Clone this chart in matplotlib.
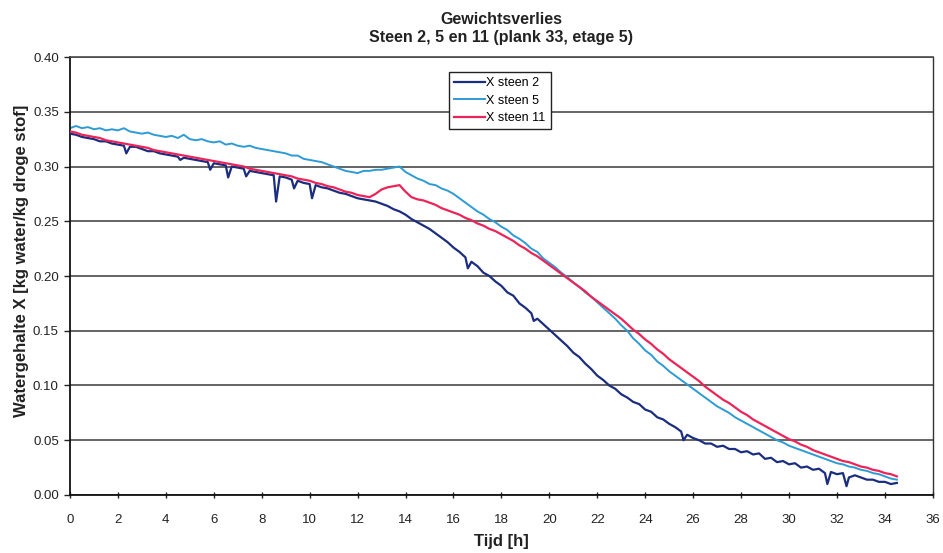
import numpy as np
import matplotlib
matplotlib.use("Agg")
import matplotlib.pyplot as plt
from matplotlib.ticker import FormatStrFormatter, MultipleLocator

OUTPUT_PNG = "out.png"

TITLE = "Gewichtsverlies\nSteen 2, 5 en 11 (plank 33, etage 5)"
X_LABEL = "Tijd [h]"
Y_LABEL = "Watergehalte X [kg water/kg droge stof]"
LABELS = ["X steen 2", "X steen 5", "X steen 11"]

# meetmoment elke kwartier, 0 .. 34.5 h
TIJD = np.arange(0, 34.5 + 0.01, 0.25)

STEEN_2 = [
    0.330, 0.329, 0.327, 0.326, 0.325, 0.323, 0.323, 0.321,
    0.320, 0.319, 0.318, 0.318, 0.316, 0.314, 0.314, 0.312,
    0.311, 0.310, 0.309, 0.308, 0.307, 0.306, 0.305, 0.304,
    0.303, 0.302, 0.301, 0.300, 0.299, 0.298, 0.296, 0.295,
    0.294, 0.293, 0.292, 0.291, 0.290, 0.288, 0.287, 0.285,
    0.284, 0.283, 0.281, 0.280, 0.278, 0.276, 0.275, 0.273,
    0.271, 0.270, 0.269, 0.268, 0.266, 0.264, 0.261, 0.259,
    0.256, 0.252, 0.249, 0.246, 0.243, 0.239, 0.235, 0.231,
    0.226, 0.222, 0.217, 0.213, 0.209, 0.203, 0.200, 0.195,
    0.191, 0.185, 0.182, 0.175, 0.171, 0.166, 0.161, 0.156,
    0.151, 0.146, 0.141, 0.136, 0.130, 0.126, 0.120, 0.115,
    0.109, 0.105, 0.100, 0.097, 0.092, 0.089, 0.085, 0.083,
    0.078, 0.076, 0.071, 0.069, 0.065, 0.062, 0.058, 0.055,
    0.052, 0.050, 0.047, 0.047, 0.044, 0.045, 0.042, 0.042,
    0.039, 0.040, 0.037, 0.038, 0.033, 0.034, 0.030, 0.031,
    0.028, 0.029, 0.025, 0.026, 0.023, 0.024, 0.020, 0.021,
    0.019, 0.020, 0.016, 0.018, 0.016, 0.014, 0.014, 0.012,
    0.012, 0.010, 0.011,
]

# korte dalen in de meting van steen 2
PIEK_TIJD = [2.35, 4.6, 5.85, 6.6, 7.35, 8.6, 9.35, 10.1, 16.6, 19.35, 25.6, 31.6, 32.4]
PIEK_X = [0.312, 0.306, 0.297, 0.290, 0.291, 0.268, 0.280, 0.271, 0.207, 0.159, 0.050, 0.010, 0.008]

STEEN_5 = [
    0.335, 0.337, 0.335, 0.336, 0.334, 0.335, 0.333, 0.334,
    0.333, 0.335, 0.332, 0.331, 0.330, 0.331, 0.329, 0.328,
    0.327, 0.328, 0.326, 0.329, 0.325, 0.324, 0.325, 0.323,
    0.322, 0.323, 0.320, 0.321, 0.319, 0.318, 0.319, 0.317,
    0.316, 0.315, 0.314, 0.313, 0.312, 0.310, 0.310, 0.307,
    0.306, 0.305, 0.304, 0.302, 0.300, 0.298, 0.296, 0.295,
    0.294, 0.296, 0.296, 0.297, 0.297, 0.298, 0.299, 0.300,
    0.295, 0.292, 0.289, 0.287, 0.284, 0.283, 0.280, 0.278,
    0.275, 0.271, 0.267, 0.263, 0.259, 0.256, 0.252, 0.249,
    0.245, 0.242, 0.237, 0.234, 0.230, 0.225, 0.222, 0.216,
    0.212, 0.208, 0.203, 0.199, 0.194, 0.190, 0.185, 0.181,
    0.176, 0.171, 0.166, 0.161, 0.155, 0.150, 0.143, 0.138,
    0.132, 0.128, 0.122, 0.118, 0.113, 0.109, 0.105, 0.101,
    0.097, 0.093, 0.089, 0.085, 0.081, 0.078, 0.075, 0.071,
    0.068, 0.065, 0.062, 0.059, 0.056, 0.053, 0.050, 0.048,
    0.045, 0.043, 0.041, 0.039, 0.037, 0.035, 0.033, 0.031,
    0.029, 0.028, 0.026, 0.025, 0.023, 0.022, 0.020, 0.019,
    0.017, 0.015, 0.014,
]

STEEN_11 = [
    0.332, 0.331, 0.329, 0.328, 0.327, 0.326, 0.324, 0.323,
    0.322, 0.321, 0.320, 0.319, 0.318, 0.317, 0.315, 0.314,
    0.313, 0.312, 0.311, 0.310, 0.309, 0.308, 0.307, 0.306,
    0.305, 0.304, 0.303, 0.302, 0.301, 0.300, 0.298, 0.297,
    0.296, 0.295, 0.294, 0.293, 0.292, 0.291, 0.289, 0.288,
    0.287, 0.285, 0.284, 0.282, 0.281, 0.279, 0.277, 0.276,
    0.274, 0.273, 0.272, 0.275, 0.279, 0.281, 0.282, 0.283,
    0.277, 0.272, 0.270, 0.269, 0.267, 0.265, 0.262, 0.260,
    0.258, 0.256, 0.253, 0.251, 0.248, 0.246, 0.243, 0.241,
    0.238, 0.235, 0.232, 0.228, 0.225, 0.221, 0.218, 0.214,
    0.210, 0.206, 0.202, 0.198, 0.194, 0.190, 0.186, 0.181,
    0.177, 0.173, 0.169, 0.165, 0.161, 0.156, 0.151, 0.147,
    0.142, 0.138, 0.133, 0.129, 0.124, 0.120, 0.116, 0.112,
    0.108, 0.104, 0.099, 0.095, 0.091, 0.087, 0.084, 0.080,
    0.076, 0.073, 0.069, 0.066, 0.063, 0.060, 0.057, 0.054,
    0.051, 0.049, 0.046, 0.044, 0.041, 0.039, 0.037, 0.035,
    0.033, 0.031, 0.030, 0.028, 0.026, 0.025, 0.023, 0.022,
    0.020, 0.019, 0.017,
]

COLORS = ["#1b2d7e", "#2d9bd4", "#ec2458"]

plt.rcParams["font.family"] = ["Liberation Sans", "DejaVu Sans"]


def merge_spikes(tijd, waarden, piek_tijd, piek_x):
    t = np.concatenate([tijd, piek_tijd])
    x = np.concatenate([waarden, piek_x])
    order = np.argsort(t, kind="stable")
    return t[order], x[order]


def render(output_png):
    fig = plt.figure(figsize=(9.43, 5.53), dpi=100)
    ax = fig.add_axes([0.0742, 0.1049, 0.915, 0.792])

    t2, x2 = merge_spikes(TIJD, np.array(STEEN_2), np.array(PIEK_TIJD), np.array(PIEK_X))
    ax.plot(t2, x2, color=COLORS[0], lw=1.6, label=LABELS[0], zorder=3)
    ax.plot(TIJD, STEEN_5, color=COLORS[1], lw=1.4, label=LABELS[1], zorder=2)
    ax.plot(TIJD, STEEN_11, color=COLORS[2], lw=1.6, label=LABELS[2], zorder=4)

    ax.set_xlim(0, 36)
    ax.set_ylim(0, 0.40)
    ax.xaxis.set_major_locator(MultipleLocator(2))
    ax.yaxis.set_major_locator(MultipleLocator(0.05))
    ax.yaxis.set_major_formatter(FormatStrFormatter("%.2f"))
    ax.tick_params(axis="y", direction="out", length=4, width=1, labelsize=9.5,
                   colors="#222222", pad=4)
    ax.tick_params(axis="x", direction="inout", length=5, width=1, labelsize=9.5,
                   colors="#222222", pad=11)

    ax.grid(axis="y", color="#4a4a4a", lw=1.2, zorder=1)
    ax.set_axisbelow(True)
    for side in ["left", "bottom"]:
        ax.spines[side].set_color("#111111")
        ax.spines[side].set_linewidth(1.3)
    ax.spines["top"].set_color("#4a4a4a")
    ax.spines["top"].set_linewidth(1.2)
    ax.spines["right"].set_color("#333333")
    ax.spines["right"].set_linewidth(1.0)

    ax.set_title(TITLE, fontsize=11.5, fontweight="bold", color="#222222",
                 linespacing=1.2, pad=11)
    ax.set_xlabel(X_LABEL, fontsize=12, fontweight="bold", color="#222222", labelpad=6)
    ax.set_ylabel(Y_LABEL, fontsize=12, fontweight="bold", color="#222222")
    # label staat in het origineel iets boven het midden van de as
    ax.yaxis.set_label_coords(-0.047, 0.534)

    leg = ax.legend(
        loc="upper left",
        bbox_to_anchor=(0.439, 0.966),
        borderaxespad=0,
        frameon=True,
        fancybox=False,
        edgecolor="#222222",
        facecolor="white",
        framealpha=1,
        fontsize=9,
        handlelength=2.5,
        handletextpad=0.1,
        labelspacing=0.45,
        borderpad=0.4,
    )
    leg.get_frame().set_linewidth(1.0)
    leg.set_zorder(10)

    fig.savefig(output_png, dpi=100)
    plt.close(fig)


if __name__ == "__main__":
    render(OUTPUT_PNG)
